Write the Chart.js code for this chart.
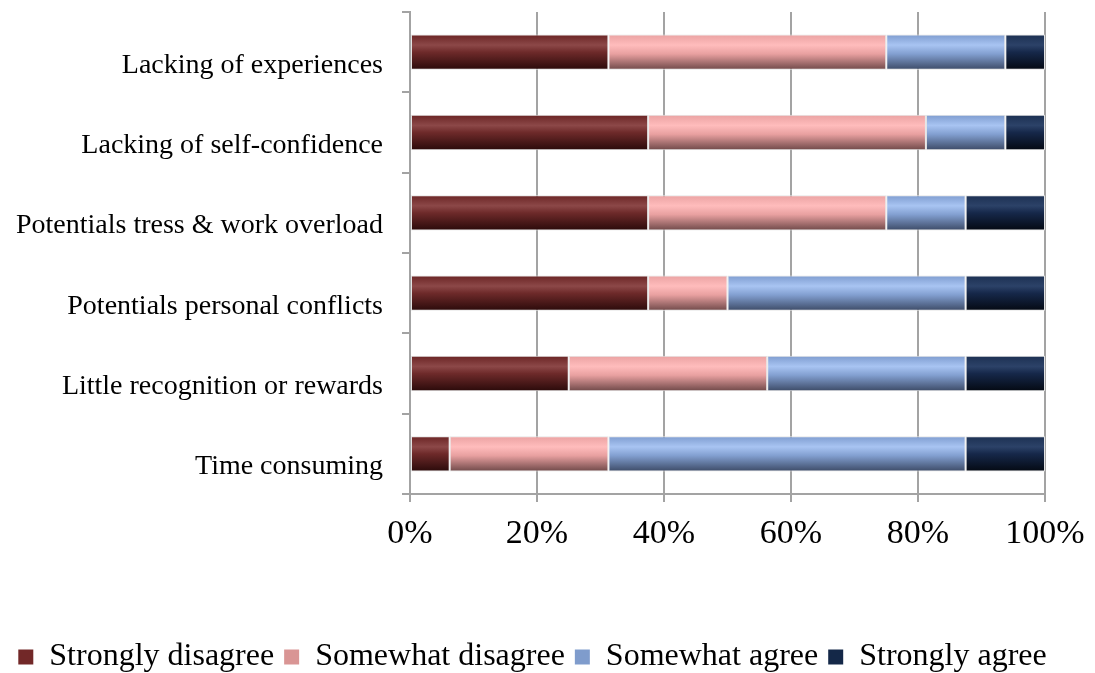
<!DOCTYPE html>
<html>
<head>
<meta charset="utf-8">
<script src="https://cdn.jsdelivr.net/npm/chart.js@4"></script>
<style>
  html, body { margin: 0; padding: 0; background: #fff; }
  #wrap { width: 1095px; height: 673px; position: relative; }
</style>
</head>
<body>
<div id="wrap"><canvas id="chart"></canvas></div>
<script>
// 数据
const categories = [
  'Lacking of experiences',
  'Lacking of self-confidence',
  'Potentials tress & work overload',
  'Potentials personal conflicts',
  'Little recognition or rewards',
  'Time consuming'
];
const stronglyDisagree = [31.25, 37.5, 37.5, 37.5, 25, 6.25];
const somewhatDisagree = [43.75, 43.75, 37.5, 12.5, 31.25, 25];
const somewhatAgree = [18.75, 12.5, 12.5, 37.5, 31.25, 56.25];
const stronglyAgree = [6.25, 6.25, 12.5, 12.5, 12.5, 12.5];
const seriesNames = ['Strongly disagree', 'Somewhat disagree', 'Somewhat agree', 'Strongly agree'];
const xTickValues = [0, 20, 40, 60, 80, 100];

const FONT = "'Liberation Serif', 'DejaVu Serif', serif";
const BAR_PCT = 0.44;
const GRID = '#a3a3a3';

/**
 * 竖向渐变，模拟立体条形
 */
function shade(flat, stops) {
  return (ctx) => {
    const chart = ctx.chart;
    const y = chart.scales && chart.scales.y;
    if (ctx.type !== 'data' || !chart.chartArea || !y) return flat;
    const c = y.getPixelForValue(ctx.dataIndex);
    const half = Math.abs(y.getPixelForValue(1) - y.getPixelForValue(0)) * BAR_PCT / 2;
    const g = chart.ctx.createLinearGradient(0, c - half, 0, c + half);
    stops.forEach(s => g.addColorStop(s[0], s[1]));
    return g;
  };
}

const flatColors = ['#722828', '#d99594', '#7f9ccc', '#142848'];
const gradients = [
  [[0, '#6a2424'], [0.3, '#8c4848'], [0.5, '#6e2a2a'], [1, '#2a0a0a']],
  [[0, '#eaa2a2'], [0.3, '#ffbcbc'], [0.55, '#e8a0a0'], [1, '#6e4848']],
  [[0, '#7e9ccf'], [0.3, '#a8c4f2'], [0.55, '#829fd0'], [1, '#3c4a66']],
  [[0, '#1c3052'], [0.3, '#2c4268'], [0.5, '#16284a'], [1, '#040912']]
];
const seriesData = [stronglyDisagree, somewhatDisagree, somewhatAgree, stronglyAgree];

const datasets = seriesNames.map((name, i) => ({
  label: name,
  data: seriesData[i],
  backgroundColor: shade(flatColors[i], gradients[i]),
  borderColor: '#e4e4e4',
  borderWidth: 1,
  borderSkipped: false,
  barPercentage: BAR_PCT,
  categoryPercentage: 1
}));

new Chart(document.getElementById('chart'), {
  type: 'bar',
  data: { labels: categories, datasets: datasets },
  options: {
    indexAxis: 'y',
    responsive: true,
    maintainAspectRatio: false,
    animation: false,
    layout: { padding: { top: 12, left: 0, right: 30, bottom: -10 } },
    plugins: {
      tooltip: { enabled: false },
      legend: {
        position: 'bottom',
        labels: {
          color: '#000',
          font: { family: FONT, size: 32 },
          boxWidth: 15,
          boxHeight: 15,
          padding: 10,
          generateLabels: (chart) => chart.data.datasets.map((ds, i) => ({
            text: ds.label,
            fillStyle: flatColors[i],
            strokeStyle: flatColors[i],
            lineWidth: 0,
            hidden: false,
            datasetIndex: i,
            fontColor: '#000'
          }))
        }
      }
    },
    scales: {
      x: {
        stacked: true,
        min: 0,
        max: 100,
        afterBuildTicks: (scale) => { scale.ticks = xTickValues.map(v => ({ value: v })); },
        ticks: {
          color: '#000',
          font: { family: FONT, size: 34 },
          padding: 12,
          callback: (v) => v + '%',
          maxRotation: 0
        },
        grid: { color: GRID, lineWidth: 2, tickLength: 8 },
        border: { color: GRID, width: 2 },
        afterFit: (scale) => {
          scale.height = 137;
          scale.paddingLeft = 0;
          scale.paddingRight = 50;
        }
      },
      y: {
        stacked: true,
        ticks: {
          color: '#000',
          font: { family: FONT, size: 28 },
          padding: 19,
          labelOffset: 13
        },
        grid: { drawOnChartArea: false, color: GRID, lineWidth: 2, tickLength: 8, offset: true },
        border: { color: GRID, width: 2 },
        afterFit: (scale) => {
          scale.width = 410;
          scale.paddingTop = 0;
          scale.paddingBottom = 0;
        }
      }
    }
  }
});
</script>
</body>
</html>
